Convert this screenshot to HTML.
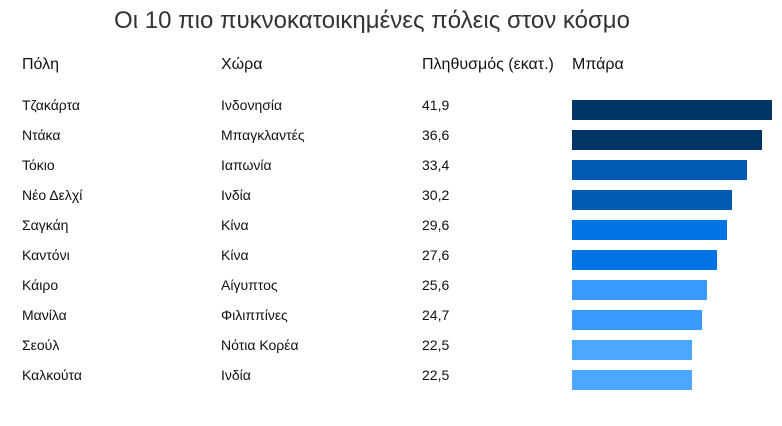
<!DOCTYPE html>
<html><head><meta charset="utf-8"><style>
body{margin:0;width:782px;height:426px;background:#fff;font-family:"Liberation Sans",Arial,sans-serif;color:#111;position:relative;overflow:hidden}
.t{position:absolute;white-space:nowrap}
.title{left:0;width:744px;text-align:center;top:7px;font-size:24px;color:#333}
.h{top:56px;font-size:16px}
.r{font-size:14px}
.b{position:absolute;left:572px;height:20px}
</style></head><body>
<div class="t title">Οι 10 πιο πυκνοκατοικημένες πόλεις στον κόσμο</div>
<div class="t h" style="left:22px">Πόλη</div>
<div class="t h" style="left:221px">Χώρα</div>
<div class="t h" style="left:422px">Πληθυσμός (εκατ.)</div>
<div class="t h" style="left:572px">Μπάρα</div>

<div class="t r" style="left:22px;top:97px">Τζακάρτα</div><div class="t r" style="left:221px;top:97px">Ινδονησία</div><div class="t r" style="left:422px;top:97px">41,9</div><div class="b" style="top:100px;width:200px;background:#003366"></div>
<div class="t r" style="left:22px;top:127px">Ντάκα</div><div class="t r" style="left:221px;top:127px">Μπαγκλαντές</div><div class="t r" style="left:422px;top:127px">36,6</div><div class="b" style="top:130px;width:190px;background:#003366"></div>
<div class="t r" style="left:22px;top:157px">Τόκιο</div><div class="t r" style="left:221px;top:157px">Ιαπωνία</div><div class="t r" style="left:422px;top:157px">33,4</div><div class="b" style="top:160px;width:175px;background:#0059b3"></div>
<div class="t r" style="left:22px;top:187px">Νέο Δελχί</div><div class="t r" style="left:221px;top:187px">Ινδία</div><div class="t r" style="left:422px;top:187px">30,2</div><div class="b" style="top:190px;width:160px;background:#0059b3"></div>
<div class="t r" style="left:22px;top:217px">Σαγκάη</div><div class="t r" style="left:221px;top:217px">Κίνα</div><div class="t r" style="left:422px;top:217px">29,6</div><div class="b" style="top:220px;width:155px;background:#0073e6"></div>
<div class="t r" style="left:22px;top:247px">Καντόνι</div><div class="t r" style="left:221px;top:247px">Κίνα</div><div class="t r" style="left:422px;top:247px">27,6</div><div class="b" style="top:250px;width:145px;background:#0073e6"></div>
<div class="t r" style="left:22px;top:277px">Κάιρο</div><div class="t r" style="left:221px;top:277px">Αίγυπτος</div><div class="t r" style="left:422px;top:277px">25,6</div><div class="b" style="top:280px;width:135px;background:#3a99ff"></div>
<div class="t r" style="left:22px;top:307px">Μανίλα</div><div class="t r" style="left:221px;top:307px">Φιλιππίνες</div><div class="t r" style="left:422px;top:307px">24,7</div><div class="b" style="top:310px;width:130px;background:#3a99ff"></div>
<div class="t r" style="left:22px;top:337px">Σεούλ</div><div class="t r" style="left:221px;top:337px">Νότια Κορέα</div><div class="t r" style="left:422px;top:337px">22,5</div><div class="b" style="top:340px;width:120px;background:#4da6ff"></div>
<div class="t r" style="left:22px;top:367px">Καλκούτα</div><div class="t r" style="left:221px;top:367px">Ινδία</div><div class="t r" style="left:422px;top:367px">22,5</div><div class="b" style="top:370px;width:120px;background:#4da6ff"></div>
</body></html>
